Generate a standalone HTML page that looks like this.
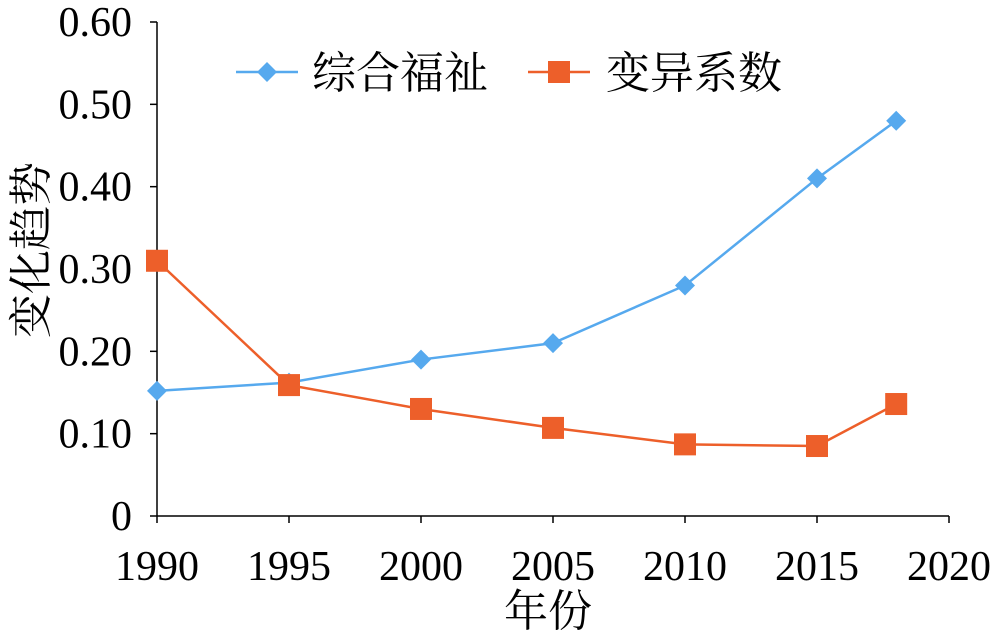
<!DOCTYPE html>
<html><head><meta charset="utf-8"><style>
html,body{margin:0;padding:0;background:#fff;}
svg{display:block;}
text{font-family:"Liberation Serif","Noto Serif CJK SC",serif;fill:#000;}
</style></head><body>
<svg id="c" width="1000" height="640" xmlns="http://www.w3.org/2000/svg"></svg>
<script>
const years=[1990,1995,2000,2005,2010,2015,2018];
const welfare=[0.152,0.162,0.19,0.21,0.28,0.41,0.48];
const cv=[0.31,0.159,0.13,0.107,0.087,0.085,0.136];
const xTicks=[1990,1995,2000,2005,2010,2015,2020];
const yTicks=[0,0.1,0.2,0.3,0.4,0.5,0.6];
const yLabels=["0","0.10","0.20","0.30","0.40","0.50","0.60"];
const svg=document.getElementById('c');
const NS="http://www.w3.org/2000/svg";
const x=v=>157+(v-1990)/30*792;
const y=v=>516-v/0.6*494;
function mk(t,a,p){const e=document.createElementNS(NS,t);for(const k in a)e.setAttribute(k,a[k]);(p||svg).appendChild(e);return e;}
const ax=mk('g',{});


mk('line',{x1:157,y1:y(0.6),x2:157,y2:516,stroke:'#000','stroke-width':1.5},ax);
mk('line',{x1:157,y1:516,x2:949,y2:516,stroke:'#000','stroke-width':1.5},ax);
yTicks.forEach((v,i)=>{
  mk('line',{x1:150,y1:y(v),x2:157,y2:y(v),stroke:'#000','stroke-width':1.5},ax);
  const t=mk('text',{x:132,y:y(v)+14,'font-size':42,'text-anchor':'end'},ax);t.textContent=yLabels[i];
  
  
});
xTicks.forEach(v=>{
  mk('line',{x1:x(v),y1:516,x2:x(v),y2:523,stroke:'#000','stroke-width':1.5},ax);
  const t=mk('text',{x:x(v),y:580,'font-size':42,'text-anchor':'middle'},ax);t.textContent=v;
  
  
});
const yt=mk('text',{x:0,y:0,'font-size':44,'text-anchor':'middle',transform:'translate(46,250) rotate(-90)'});
yt.textContent='变化趋势';


const xt=mk('text',{x:548,y:626,'font-size':44,'text-anchor':'middle'});
xt.textContent='年份';


const g1=mk('g',{});


mk('polyline',{points:years.map((yr,i)=>x(yr)+','+y(welfare[i])).join(' '),fill:'none',stroke:'#56a9ee','stroke-width':2.5},g1);
years.forEach((yr,i)=>{const cx=x(yr),cy=y(welfare[i]);
  const p=mk('polygon',{points:`${cx},${cy-10} ${cx+10},${cy} ${cx},${cy+10} ${cx-10},${cy}`,fill:'#56a9ee'},g1);
  
  });
const g2=mk('g',{});


mk('polyline',{points:years.map((yr,i)=>x(yr)+','+y(cv[i])).join(' '),fill:'none',stroke:'#ed5f2a','stroke-width':2.5},g2);
years.forEach((yr,i)=>{const cx=x(yr),cy=y(cv[i]);
  const r=mk('rect',{x:cx-11,y:cy-11,width:22,height:22,fill:'#ed5f2a'},g2);
  
  });
const lg=mk('g',{});


mk('line',{x1:236,y1:72,x2:298,y2:72,stroke:'#56a9ee','stroke-width':2.5},lg);
mk('polygon',{points:'267,62 277,72 267,82 257,72',fill:'#56a9ee'},lg);
const l1=mk('text',{x:312,y:88,'font-size':44},lg);l1.textContent='综合福祉';


mk('line',{x1:528,y1:72,x2:590,y2:72,stroke:'#ed5f2a','stroke-width':2.5},lg);
mk('rect',{x:548,y:61,width:22,height:22,fill:'#ed5f2a'},lg);
const l2=mk('text',{x:606,y:88,'font-size':44},lg);l2.textContent='变异系数';


</script>
</body></html>
